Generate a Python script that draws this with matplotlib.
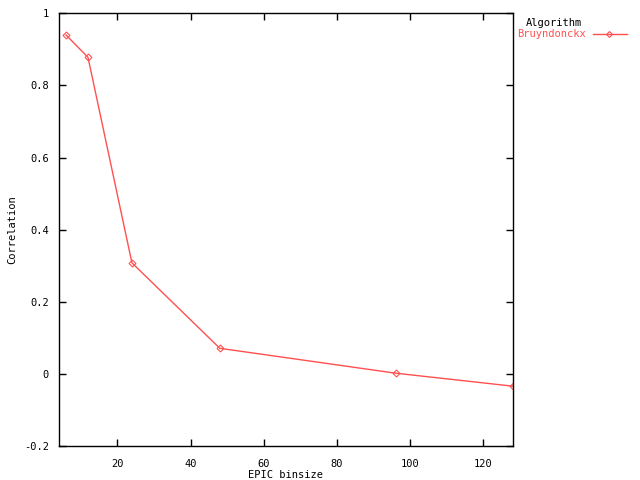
import matplotlib
matplotlib.use("Agg")
import matplotlib.pyplot as plt

# data
binsize = [6, 12, 24, 48, 96, 128]
correlation = [0.94, 0.878, 0.308, 0.071, 0.002, -0.034]
series_name = "Bruyndonckx"
legend_title = "Algorithm"

red = "#ff5050"
plt.rcParams["font.family"] = ["DejaVu Sans Mono"]
plt.rcParams["font.size"] = 7.5

fig = plt.figure(figsize=(6.4, 4.8), dpi=100)
ax = fig.add_axes([0.0917, 0.0708, 0.7095, 0.9014])

ax.plot(binsize, correlation, color=red, lw=1, marker="D", ms=3.5,
        mfc="none", mec=red, mew=0.8)

ax.set_xlim(4, 128)
ax.set_ylim(-0.2, 1)
ax.set_xticks([20, 40, 60, 80, 100, 120])
ax.set_yticks([-0.2, 0, 0.2, 0.4, 0.6, 0.8, 1])
ax.set_yticklabels(["-0.2", "0", "0.2", "0.4", "0.6", "0.8", "1"])
ax.tick_params(direction="in", top=True, right=True, length=5, width=1)
ax.tick_params(axis="y", pad=7)
ax.tick_params(axis="x", pad=9)
for s in ax.spines.values():
    s.set_linewidth(1)

ax.set_xlabel("EPIC binsize", labelpad=1)
ax.set_ylabel("Correlation", labelpad=5)

# gnuplot-style key outside the plot on the right
fig.text(554 / 640, 1 - 23 / 480, legend_title, ha="center", va="center")
fig.text(586 / 640, 1 - 34 / 480, series_name, ha="right", va="center", color=red)
fig.add_artist(plt.Line2D([593 / 640, 627 / 640], [1 - 34 / 480] * 2,
                          color=red, lw=1, transform=fig.transFigure))
fig.add_artist(plt.Line2D([609 / 640], [1 - 34 / 480], color=red, marker="D",
                          ms=3, mfc="none", mew=0.8, transform=fig.transFigure))

fig.savefig("out.png", dpi=100)
